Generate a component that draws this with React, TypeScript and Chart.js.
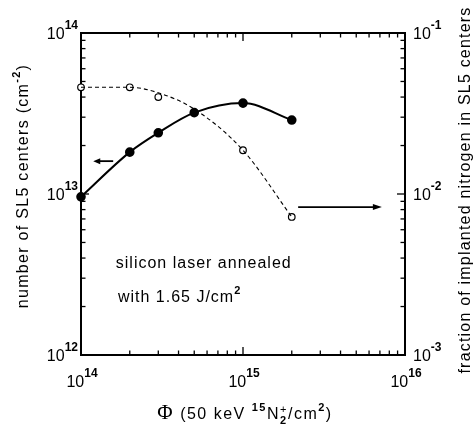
import React, { useEffect, useRef } from 'react';
import { Chart, registerables } from 'chart.js';

Chart.register(...registerables);

// ---- data ----
const fluence = [1e14, 2e14, 3e14, 5e14, 1e15, 2e15];
const sl5Centers = [9.6e12, 1.82e13, 2.4e13, 3.2e13, 3.67e13, 2.88e13];

const fractionFluence = [1e14, 2e14, 3e14, 1e15, 2e15];
const fractionValues = [4.6e-2, 4.6e-2, 4.0e-2, 1.87e-2, 7.2e-3];

const fractionCurveFluence = [1e14, 2e14, 3e14, 5e14, 1e15, 2e15];
const fractionCurveValues = [4.6e-2, 4.6e-2, 4.25e-2, 3.37e-2, 1.87e-2, 7.2e-3];

const xTickValues = [1e14, 1e15, 1e16];
const xTickExps = ['14', '15', '16'];
const leftTickValues = [1e12, 1e13, 1e14];
const leftTickExps = ['12', '13', '14'];
const rightTickValues = [1e-3, 1e-2, 1e-1];
const rightTickExps = ['-3', '-2', '-1'];

const annotLine1 = 'silicon laser annealed';
const annotLine2 = 'with 1.65 J/cm';
const annotPos1 = [1.64e14, 3.47e12];
const annotPos2 = [1.69e14, 2.13e12];
const leftArrow = { from: 1.58e14, to: 1.19e14, y: 1.6e13 };
const rightArrow = { from: 2.19e15, to: 7.2e15, y: 8.3e-3 };

const SANS = '"Liberation Sans", Arial, Helvetica, sans-serif';
const SERIF = '"Liberation Serif", "DejaVu Serif", serif';

type Seg = { t: string; size: number; bold?: boolean; dy?: number; family?: string; stack?: boolean };

function segFont(s: Seg) {
  return `${s.bold ? 'bold ' : ''}${s.size}px ${s.family || SANS}`;
}

function measureSegs(ctx: CanvasRenderingContext2D, segs: Seg[]) {
  let w = 0;
  let pending = 0;
  for (const s of segs) {
    ctx.font = segFont(s);
    const sw = ctx.measureText(s.t).width;
    if (s.stack) pending = Math.max(pending, sw);
    else {
      w += Math.max(sw, pending);
      pending = 0;
    }
  }
  return w + pending;
}

function drawSegs(ctx: CanvasRenderingContext2D, segs: Seg[], x: number, y: number) {
  let cx = x;
  let pending = 0;
  ctx.textAlign = 'left';
  ctx.textBaseline = 'alphabetic';
  for (const s of segs) {
    ctx.font = segFont(s);
    ctx.fillText(s.t, cx, y + (s.dy || 0));
    const sw = ctx.measureText(s.t).width;
    if (s.stack) pending = Math.max(pending, sw);
    else {
      cx += Math.max(sw, pending);
      pending = 0;
    }
  }
}

function powSegs(exp: string): Seg[] {
  return [
    { t: '10', size: 16 },
    { t: exp, size: 12, bold: true, dy: -10 },
  ];
}

function minorValues(majors: number[]) {
  const out: { v: number; major: boolean }[] = [];
  majors.forEach((m, i) => {
    out.push({ v: m, major: true });
    if (i < majors.length - 1) {
      for (let k = 2; k <= 9; k++) out.push({ v: m * k, major: false });
    }
  });
  return out;
}

const framePlugin = {
  id: 'frameAxes',
  beforeDatasetsDraw(chart: any) {
    const { ctx, chartArea: a } = chart;
    ctx.save();
    ctx.strokeStyle = '#000';
    ctx.lineWidth = 2;
    ctx.strokeRect(a.left, a.top, a.right - a.left, a.bottom - a.top);
    ctx.restore();
  },
  afterDatasetsDraw(chart: any) {
    const { ctx, chartArea: a, scales } = chart;
    const xs = scales.x;
    const yl = scales.y;
    const yr = scales.y2;
    ctx.save();
    ctx.strokeStyle = '#000';
    ctx.fillStyle = '#000';
    ctx.lineWidth = 1.3;
    const MAJ = 8;
    const MIN = 4.5;
    // ticks
    for (const t of minorValues(xTickValues)) {
      const px = xs.getPixelForValue(t.v);
      const L = t.major ? MAJ : MIN;
      ctx.beginPath();
      ctx.moveTo(px, a.bottom);
      ctx.lineTo(px, a.bottom - L);
      ctx.moveTo(px, a.top);
      ctx.lineTo(px, a.top + L);
      ctx.stroke();
    }
    for (const t of minorValues(leftTickValues)) {
      const py = yl.getPixelForValue(t.v);
      const L = t.major ? MAJ : MIN;
      ctx.beginPath();
      ctx.moveTo(a.left, py);
      ctx.lineTo(a.left + L, py);
      ctx.stroke();
    }
    for (const t of minorValues(rightTickValues)) {
      const py = yr.getPixelForValue(t.v);
      const L = t.major ? MAJ : MIN;
      ctx.beginPath();
      ctx.moveTo(a.right, py);
      ctx.lineTo(a.right - L, py);
      ctx.stroke();
    }

    // tick labels
    xTickValues.forEach((v, i) => {
      const segs = powSegs(xTickExps[i]);
      const W = measureSegs(ctx, segs);
      drawSegs(ctx, segs, xs.getPixelForValue(v) - W / 2 + 1, a.bottom + 32);
    });
    leftTickValues.forEach((v, i) => {
      const segs = powSegs(leftTickExps[i]);
      const W = measureSegs(ctx, segs);
      drawSegs(ctx, segs, a.left - 3 - W, yl.getPixelForValue(v) + 6);
    });
    rightTickValues.forEach((v, i) => {
      const segs = powSegs(rightTickExps[i]);
      drawSegs(ctx, segs, a.right + 8, yr.getPixelForValue(v) + 6);
    });

    // axis titles
    (ctx as any).letterSpacing = '1.3px';
    const leftTitle: Seg[] = [
      { t: 'number of SL5 centers (cm', size: 16 },
      { t: '-2', size: 11, bold: true, dy: -8 },
      { t: ')', size: 16 },
    ];
    let W = measureSegs(ctx, leftTitle);
    ctx.save();
    ctx.translate(28, 186);
    ctx.rotate(-Math.PI / 2);
    drawSegs(ctx, leftTitle, -W / 2, 0);
    ctx.restore();

    (ctx as any).letterSpacing = '1.2px';
    const rightTitle: Seg[] = [{ t: 'fraction of implanted nitrogen in SL5 centers', size: 16 }];
    W = measureSegs(ctx, rightTitle);
    ctx.save();
    ctx.translate(470, 190);
    ctx.rotate(-Math.PI / 2);
    drawSegs(ctx, rightTitle, -W / 2, 0);
    ctx.restore();

    (ctx as any).letterSpacing = '1.5px';
    const xTitle: Seg[] = [
      { t: '\u03A6', size: 21, family: SERIF },
      { t: ' (50 keV ', size: 16 },
      { t: '15', size: 11, bold: true, dy: -8 },
      { t: 'N', size: 16 },
      { t: '2', size: 11, bold: true, dy: 5, stack: true },
      { t: '+', size: 11, dy: -6 },
      { t: '/cm', size: 16 },
      { t: '2', size: 11, bold: true, dy: -8 },
      { t: ')', size: 16 },
    ];
    W = measureSegs(ctx, xTitle);
    drawSegs(ctx, xTitle, (a.left + a.right) / 2 - W / 2 + 2, 419);

    // annotations
    (ctx as any).letterSpacing = '1px';
    drawSegs(ctx, [{ t: annotLine1, size: 16 }], xs.getPixelForValue(annotPos1[0]), yl.getPixelForValue(annotPos1[1]));
    drawSegs(
      ctx,
      [
        { t: annotLine2, size: 16 },
        { t: '2', size: 11, bold: true, dy: -8 },
      ],
      xs.getPixelForValue(annotPos2[0]),
      yl.getPixelForValue(annotPos2[1])
    );
    (ctx as any).letterSpacing = '0px';

    // arrows
    const arrow = (x1: number, x2: number, y: number, head: number) => {
      const dir = Math.sign(x2 - x1);
      ctx.lineWidth = 1.8;
      ctx.beginPath();
      ctx.moveTo(x1, y);
      ctx.lineTo(x2 - dir * head * 0.8, y);
      ctx.stroke();
      ctx.beginPath();
      ctx.moveTo(x2, y);
      ctx.lineTo(x2 - dir * head, y - 3);
      ctx.lineTo(x2 - dir * head, y + 3);
      ctx.closePath();
      ctx.fill();
    };
    arrow(xs.getPixelForValue(leftArrow.from), xs.getPixelForValue(leftArrow.to), yl.getPixelForValue(leftArrow.y), 7);
    arrow(xs.getPixelForValue(rightArrow.from), xs.getPixelForValue(rightArrow.to), yr.getPixelForValue(rightArrow.y), 9);

    ctx.restore();
  },
};

export default function App() {
  const ref = useRef<HTMLCanvasElement>(null);
  useEffect(() => {
    if (!ref.current) return;
    const chart = new Chart(ref.current, {
      type: 'scatter',
      data: {
        datasets: [
          {
            data: fractionCurveFluence.map((x, i) => ({ x, y: fractionCurveValues[i] })),
            yAxisID: 'y2',
            showLine: true,
            borderColor: '#000',
            borderWidth: 1.1,
            borderDash: [4, 3],
            pointRadius: 0,
            cubicInterpolationMode: 'monotone',
            clip: false,
          } as any,
          {
            data: fluence.map((x, i) => ({ x, y: sl5Centers[i] })),
            yAxisID: 'y',
            showLine: true,
            borderColor: '#000',
            borderWidth: 2,
            pointRadius: 3.8,
            pointBackgroundColor: '#000',
            pointBorderColor: '#000',
            cubicInterpolationMode: 'monotone',
            clip: false,
          } as any,
          {
            data: fractionFluence.map((x, i) => ({ x, y: fractionValues[i] })),
            yAxisID: 'y2',
            showLine: false,
            pointRadius: 3.3,
            pointBorderWidth: 1.2,
            pointBackgroundColor: '#fff',
            pointBorderColor: '#000',
            clip: false,
          } as any,
        ],
      },
      options: {
        responsive: false,
        animation: false,
        layout: { padding: { left: 81, top: 33, right: 69, bottom: 78 } },
        plugins: { legend: { display: false }, tooltip: { enabled: false } },
        scales: {
          x: { type: 'logarithmic', min: 1e14, max: 1e16, display: false },
          y: { type: 'logarithmic', min: 1e12, max: 1e14, display: false },
          y2: { type: 'logarithmic', min: 1e-3, max: 1e-1, display: false, position: 'right' },
        },
      } as any,
      plugins: [framePlugin],
    });
    return () => chart.destroy();
  }, []);
  return (
    <div style={{ position: 'fixed', left: 0, top: 0, width: 474, height: 433, background: '#fff' }}>
      <canvas ref={ref} width={474} height={433} style={{ width: 474, height: 433 }} />
    </div>
  );
}
